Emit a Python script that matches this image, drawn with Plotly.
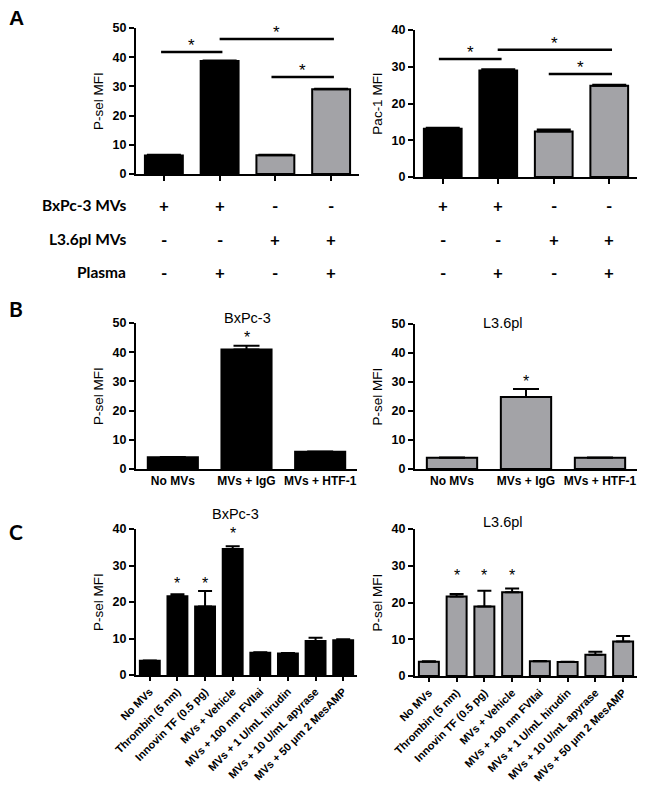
import plotly.graph_objects as go

W, H = 645, 790

# ---------------- Panel A data ----------------
a_row_labels = ["BxPc-3 MVs", "L3.6pl MVs", "Plasma"]
a_bxpc3 = ["+", "+", "-", "-"]
a_l36pl = ["-", "-", "+", "+"]
a_plasma = ["-", "+", "-", "+"]
a_psel_mean = [6.3, 38.7, 6.4, 29.0]
a_psel_sem = [0.3, 0.2, 0.2, 0.2]
a_pac1_mean = [13.1, 29.0, 12.4, 24.8]
a_pac1_sem = [0.3, 0.3, 0.5, 0.3]
# significance brackets (from category, to category, height)
a_psel_sig = [(-0.05, 1.05, 41.8), (1.0, 3.05, 46.2), (1.93, 3.05, 33.2)]
a_pac1_sig = [(-0.07, 1.06, 32.1), (0.99, 3.05, 34.6), (1.91, 3.05, 28.0)]

# ---------------- Panel B data ----------------
b_categories = ["No MVs", "MVs + IgG", "MVs + HTF-1"]
b_bxpc3_mean = [4.0, 40.9, 5.9]
b_bxpc3_sem = [0.1, 1.3, 0.1]
b_bxpc3_star = [None, 46.3, None]
b_l36pl_mean = [3.9, 24.8, 3.9]
b_l36pl_sem = [0.1, 2.8, 0.1]
b_l36pl_star = [None, 31.7, None]

# ---------------- Panel C data ----------------
c_categories = ["No MVs", "Thrombin (5 nm)", "Innovin TF (0.5 pg)", "MVs + Vehicle",
                "MVs + 100 nm FVIIai", "MVs + 1 U/mL hirudin",
                "MVs + 10 U/mL apyrase", "MVs + 50 μm 2 MesAMP"]
c_bxpc3_mean = [3.9, 21.6, 18.8, 34.5, 6.1, 5.9, 9.3, 9.5]
c_bxpc3_sem = [0.1, 0.5, 4.2, 0.8, 0.1, 0.1, 0.9, 0.3]
c_bxpc3_star = [None, 26.2, 26.2, 40.0, None, None, None, None]
c_l36pl_mean = [3.9, 21.6, 18.9, 22.8, 4.0, 3.8, 5.8, 9.4]
c_l36pl_sem = [0.1, 0.7, 4.3, 1.0, 0.1, 0.1, 0.8, 1.5]
c_l36pl_star = [None, 28.5, 28.5, 28.5, None, None, None, None]

BLACK = "#000000"
GREY = "#a3a3a7"
FONT = "Liberation Sans, Arial, sans-serif"
CAL = "Lato, Open Sans, sans-serif"


def px(x):
    return x / W


def py(y):
    return 1 - y / H


fig = go.Figure()

panels = {
    1: dict(xd=(136, 359), yd=(174, 28), ymax=50),
    2: dict(xd=(415, 637), yd=(177, 30), ymax=40),
    3: dict(xd=(136, 357), yd=(469, 323), ymax=50),
    4: dict(xd=(415, 637), yd=(469, 324), ymax=50),
    5: dict(xd=(136, 357), yd=(675, 529), ymax=40),
    6: dict(xd=(415, 637), yd=(676, 529), ymax=40),
}


def add_bars(n, means, sems, colors, width, capw):
    xs = list(range(len(means)))
    fig.add_trace(go.Bar(
        x=xs, y=means, width=width,
        marker=dict(color=colors, line=dict(color=BLACK, width=2)),
        error_y=dict(type="data", array=sems, arrayminus=[0] * len(sems),
                     symmetric=False, color=BLACK, thickness=2, width=capw),
        xaxis=f"x{n}", yaxis=f"y{n}", showlegend=False, hoverinfo="skip",
    ))


a_colors = [BLACK if s == "+" else GREY for s in a_bxpc3]
add_bars(1, a_psel_mean, a_psel_sem, a_colors, 0.68, 17)
add_bars(2, a_pac1_mean, a_pac1_sem, a_colors, 0.68, 17)
add_bars(3, b_bxpc3_mean, b_bxpc3_sem, [BLACK] * 3, 0.68, 13)
add_bars(4, b_l36pl_mean, b_l36pl_sem, [GREY] * 3, 0.68, 13)
add_bars(5, c_bxpc3_mean, c_bxpc3_sem, [BLACK] * 8, 0.72, 7)
add_bars(6, c_l36pl_mean, c_l36pl_sem, [GREY] * 8, 0.72, 7)

layout = dict(
    template="none",
    width=W, height=H, margin=dict(l=0, r=0, t=0, b=0, autoexpand=False),
    plot_bgcolor="white", paper_bgcolor="white",
    bargap=0, showlegend=False,
)
ncat = {1: 4, 2: 4, 3: 3, 4: 3, 5: 8, 6: 8}
for n, p in panels.items():
    xk = "xaxis" if n == 1 else f"xaxis{n}"
    yk = "yaxis" if n == 1 else f"yaxis{n}"
    nc = ncat[n]
    xa = dict(
        domain=[px(p["xd"][0]), px(p["xd"][1])],
        range=[-0.5, nc - 0.5], anchor=f"y{n}", automargin=False,
        showline=True, linecolor=BLACK, linewidth=2,
        showgrid=False, zeroline=False, fixedrange=True,
        tickvals=list(range(nc)), ticklabeloverflow="allow",
    )
    if n in (1, 2):
        xa.update(ticks="outside", ticklen=5, tickwidth=2, tickcolor=BLACK,
                  showticklabels=False)
    elif n in (3, 4):
        xa.update(ticks="", ticktext=b_categories,
                  tickfont=dict(family=FONT, size=12, color=BLACK, weight="bold"))
    else:
        xa.update(ticks="outside", ticklen=4, tickwidth=2, tickcolor=BLACK,
                  ticktext=c_categories, tickangle=-45,
                  tickfont=dict(family=FONT, size=11, color=BLACK, weight="bold"))
    ya = dict(
        domain=[py(p["yd"][0]), py(p["yd"][1])],
        range=[0, p["ymax"]], dtick=10, anchor=f"x{n}", automargin=False,
        showline=True, linecolor=BLACK, linewidth=2,
        showgrid=False, zeroline=False, fixedrange=True,
        ticks="outside", ticklen=5, tickwidth=2, tickcolor=BLACK,
        tickfont=dict(family=FONT, size=12.5, color=BLACK, weight="bold"),
        title=dict(text="Pac-1 MFI" if n == 2 else "P-sel MFI",
                   font=dict(family=FONT, size=13.5, color=BLACK), standoff=6),
    )
    layout[xk] = xa
    layout[yk] = ya

fig.update_layout(**layout)

annotations = []
shapes = []

# significance brackets panel A
for n, sig in ((1, a_psel_sig), (2, a_pac1_sig)):
    for x0, x1, y in sig:
        shapes.append(dict(type="line", xref=f"x{n}", yref=f"y{n}",
                           x0=x0, x1=x1, y0=y, y1=y,
                           line=dict(color=BLACK, width=2.5)))
        annotations.append(dict(x=(x0 + x1) / 2, y=y, xref=f"x{n}", yref=f"y{n}",
                                text="*", showarrow=False, yanchor="bottom",
                                yshift=-5,
                                font=dict(family=FONT, size=17, color=BLACK)))

# stars B & C (value = centre of the asterisk glyph)
for n, stars in ((3, b_bxpc3_star), (4, b_l36pl_star), (5, c_bxpc3_star), (6, c_l36pl_star)):
    for i, s in enumerate(stars):
        if s is None:
            continue
        annotations.append(dict(x=i, y=s, xref=f"x{n}", yref=f"y{n}",
                                text="*", showarrow=False, yanchor="middle",
                                yshift=-4,
                                font=dict(family=FONT, size=16, color=BLACK)))

# condition table under panel A
row_y = [205, 239, 272]
rows = [a_bxpc3, a_l36pl, a_plasma]
for label, yv, vals in zip(a_row_labels, row_y, rows):
    annotations.append(dict(x=px(128), y=py(yv), xref="paper", yref="paper",
                            text=label, showarrow=False, xanchor="right",
                            yanchor="middle",
                            font=dict(family=CAL, size=15.5, color=BLACK, weight="bold")))
    for n in (1, 2):
        for i, v in enumerate(vals):
            annotations.append(dict(x=i, y=py(yv), xref=f"x{n}", yref="paper",
                                    text=v, showarrow=False, yanchor="middle",
                                    font=dict(family=CAL, size=17, color=BLACK,
                                              weight="bold")))

# subplot titles
for text, xx, yy in (("BxPc-3", 247, 318), ("L3.6pl", 525, 323),
                     ("BxPc-3", 235, 514), ("L3.6pl", 525, 522)):
    annotations.append(dict(x=px(xx), y=py(yy), xref="paper", yref="paper",
                            text=text, showarrow=False, yanchor="middle",
                            font=dict(family=FONT, size=14.5, color=BLACK)))

# panel letters
for text, yy, fam in (("A", 17, FONT), ("B", 308, CAL), ("C", 531, CAL)):
    annotations.append(dict(x=px(7), y=py(yy), xref="paper", yref="paper",
                            text=text, showarrow=False, xanchor="left",
                            yanchor="middle",
                            font=dict(family=fam, size=21, color=BLACK, weight="bold")))

fig.update_layout(annotations=annotations, shapes=shapes)
fig.write_html(
    "out.html",
    config={"displayModeBar": False, "staticPlot": True},
    post_script="document.body.style.margin='0';document.body.style.padding='0';"
                "document.body.style.overflow='hidden';",
)
